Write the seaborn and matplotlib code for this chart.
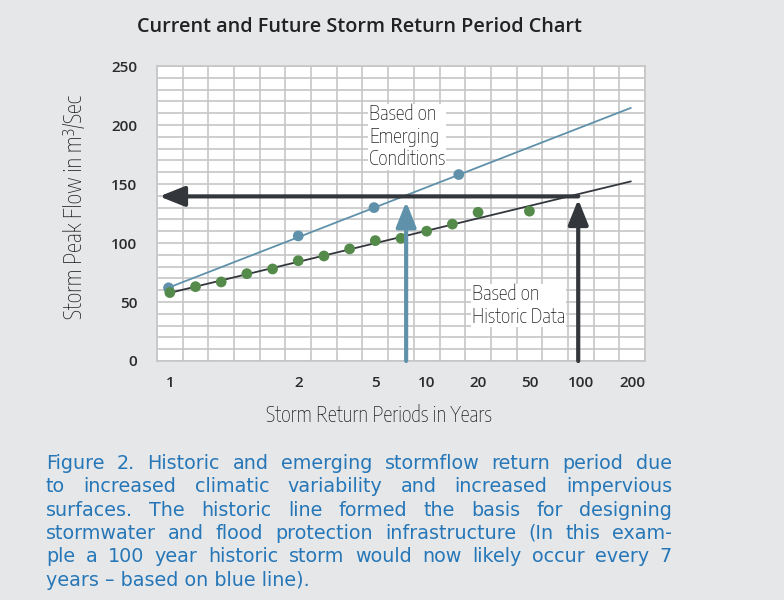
import matplotlib

matplotlib.use("Agg")

import matplotlib.pyplot as plt
import seaborn as sns
from matplotlib import font_manager

# The return-period axis is drawn on a uniform grid of 19 columns,
# so x values below are grid-column positions.
TICK_COLS = [0.5, 5.5, 8.5, 10.5, 12.5, 14.5, 16.5, 18.5]
TICK_LABELS = ["1", "2", "5", "10", "20", "50", "100", "200"]
Y_TICKS = [0, 50, 100, 150, 200, 250]

HIST_COLS = [0.5, 1.5, 2.5, 3.5, 4.5, 5.5, 6.5, 7.5, 8.5, 9.5, 10.5, 11.5, 12.5, 14.5]
HIST_FLOW = [58, 63, 67, 74, 78, 85, 89, 95, 102, 104, 110, 116, 126, 127]
EMERG_COLS = [0.45, 5.5, 8.45, 11.75]
EMERG_FLOW = [62, 106, 130, 158]

HIST_FIT_COLS = [0.45, 18.45]
HIST_FIT_FLOW = [57.5, 152.2]
EMERG_FIT_COLS = [0.43, 18.45]
EMERG_FIT_FLOW = [62, 214.5]

DESIGN_FLOW = 139.5
HIST_100YR_COL = 16.4
EMERG_CROSS_COL = 9.7

TITLE = "Current and Future Storm Return Period Chart"
CAPTION = [
    "Figure 2. Historic and emerging stormflow return period due",
    "to increased climatic variability and increased  impervious",
    "surfaces. The historic line formed the basis for designing",
    "stormwater and flood protection infrastructure (In this exam-",
    "ple a 100 year historic storm would now likely occur every 7",
    "years \u2013 based on blue line).",
]

BG = "#e6e7e9"
GRID = "#c6c6c6"
GREEN = "#548b4a"
BLUE = "#5f92aa"
DARK = "#33373c"
TEXT = "#262626"
CAPTION_BLUE = "#2677b8"


def _weight(entry):
    w = entry.weight
    if isinstance(w, str):
        w = font_manager.weight_dict.get(w, 400)
    return w


# lightest condensed / narrow face available for the hand-lettered labels
cond_faces = [
    f for f in font_manager.fontManager.ttflist
    if ("Condensed" in f.name or "Narrow" in f.name or "condensed" in str(f.stretch))
    and f.style == "normal"
    and f.variant == "normal"
    and not f.name.endswith(" SC")
    and "SC" not in f.fname.split("/")[-1].replace("CJK", "")
]
cond_faces.sort(key=_weight)
if cond_faces:
    COND_PROP = dict(fontproperties=font_manager.FontProperties(fname=cond_faces[0].fname))
else:
    COND_PROP = dict(family="DejaVu Sans")

sns.set_theme(style="white")
plt.rcParams["font.family"] = ["Open Sans", "DejaVu Sans"]

W, H = 784, 600
fig = plt.figure(figsize=(W / 100, H / 100), dpi=100, facecolor=BG)
ax = fig.add_axes([157 / W, 1 - 361 / H, 488 / W, 295 / H])
ax.set_facecolor("white")


def fx(px):
    return px / W


def fy(py):
    return 1 - py / H


# fitted lines and observed points
sns.lineplot(x=EMERG_FIT_COLS, y=EMERG_FIT_FLOW, ax=ax, color=BLUE, lw=1.3, sort=False, zorder=3)
sns.lineplot(x=HIST_FIT_COLS, y=HIST_FIT_FLOW, ax=ax, color=DARK, lw=1.3, sort=False, zorder=3)
sns.scatterplot(x=EMERG_COLS, y=EMERG_FLOW, ax=ax, color=BLUE, s=60, edgecolor="none", zorder=4)
sns.scatterplot(x=HIST_COLS, y=HIST_FLOW, ax=ax, color=GREEN, s=60, edgecolor="none", zorder=5)

arrow = "-|>,head_length=0.4,head_width=0.16"
ax.annotate("", xy=(0.09, DESIGN_FLOW), xytext=(HIST_100YR_COL, DESIGN_FLOW),
            arrowprops=dict(arrowstyle=arrow, mutation_scale=38, lw=3, color=DARK,
                            shrinkA=0, shrinkB=0), zorder=6)
ax.annotate("", xy=(EMERG_CROSS_COL, 135), xytext=(EMERG_CROSS_COL, 0),
            arrowprops=dict(arrowstyle=arrow, mutation_scale=38, lw=3, color=BLUE,
                            shrinkA=0, shrinkB=0), zorder=6)
ax.annotate("", xy=(HIST_100YR_COL, 137), xytext=(HIST_100YR_COL, 0),
            arrowprops=dict(arrowstyle=arrow, mutation_scale=38, lw=3, color=DARK,
                            shrinkA=0, shrinkB=0), zorder=6)

box = dict(fc="white", ec="none", pad=0.5)
ax.text(8.25, 217.5, "Based on\nEmerging\nConditions", va="top", ha="left", size=14.5,
        linespacing=1.15, bbox=box, zorder=7, color=TEXT, **COND_PROP)
ax.text(12.26, 65, "Based on\nHistoric Data", va="top", ha="left", size=14.5,
        linespacing=1.15, bbox=box, zorder=7, color=TEXT, **COND_PROP)

ax.set_xlim(0, 19)
ax.set_ylim(0, 250)
ax.set_xticks(TICK_COLS)
ax.set_xticklabels(TICK_LABELS)
ax.set_yticks(Y_TICKS)
ax.set_xticks(range(0, 20), minor=True)
ax.set_yticks(range(0, 251, 10), minor=True)
ax.yaxis.remove_overlapping_locs = False
ax.grid(False, which="major")
ax.grid(True, which="minor", color=GRID, lw=1.2)
ax.set_axisbelow(True)
ax.tick_params(which="both", length=0)
ax.tick_params(axis="x", pad=11, labelsize=11, labelcolor="#2b2b2b")
ax.tick_params(axis="y", pad=14, labelsize=11, labelcolor="#2b2b2b")
for lab in ax.get_xticklabels() + ax.get_yticklabels():
    lab.set_fontweight("semibold")
for sp in ax.spines.values():
    sp.set_color(GRID)
    sp.set_linewidth(1.2)
ax.set_xlabel("")
ax.set_ylabel("")

fig.text(fx(359), fy(27), TITLE, ha="center", va="center", fontsize=14.3,
         weight="semibold", color="#222222")
fig.text(fx(75), fy(207), "Storm Peak Flow in m\u00b3/Sec", rotation=90, ha="center",
         va="center", size=16.5, color=TEXT, **COND_PROP)
fig.text(fx(379), fy(416), "Storm Return Periods in Years", ha="center", va="center",
         size=15, color=TEXT, **COND_PROP)

# justified caption
renderer = fig.canvas.get_renderer()
cap_kw = dict(fontsize=13.8, family="DejaVu Sans", color=CAPTION_BLUE, va="baseline", ha="left")
x0, x1 = 46, 672
for i, line in enumerate(CAPTION):
    base = fy(469 + i * 23.3)
    if i == len(CAPTION) - 1:
        fig.text(fx(x0), base, line, **cap_kw)
        continue
    words = line.split()
    arts = [fig.text(0, base, w, **cap_kw) for w in words]
    widths = [a.get_window_extent(renderer).width for a in arts]
    gap = (x1 - x0 - sum(widths)) / (len(words) - 1)
    pos = x0
    for a, wd in zip(arts, widths):
        a.set_x(fx(pos))
        pos += wd + gap

fig.savefig("out.png", dpi=100, facecolor=BG)
